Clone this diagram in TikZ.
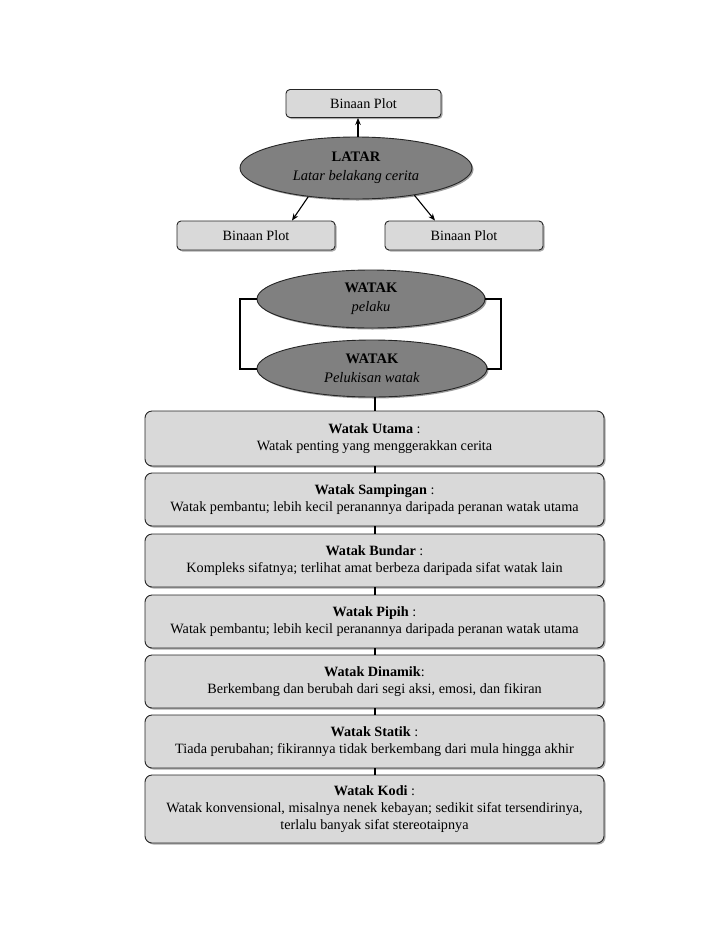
\documentclass[tikz,border=0pt]{standalone}
\usepackage{fontspec}
\setmainfont{Liberation Serif}
\usetikzlibrary{arrows.meta,shapes.geometric,shadows}
\definecolor{boxfill}{HTML}{D9D9D9}
\definecolor{ellfill}{HTML}{808080}
\begin{document}
\begin{tikzpicture}[x=1pt,y=-1pt,
  plotbox/.style={draw=black!85,line width=0.9pt,fill=boxfill,rounded corners=4pt,
    minimum width=#1,minimum height=28pt,inner sep=0pt,font=\fontsize{14.2}{16}\selectfont,
    drop shadow={shadow xshift=1.5pt,shadow yshift=-1.5pt,opacity=0.55,fill=black!60}},
  infobox/.style={draw=black!85,line width=0.9pt,fill=boxfill,rounded corners=7pt,
    minimum width=459pt,minimum height=#1,inner sep=0pt,align=center,
    font=\fontsize{14.2}{17}\selectfont,
    drop shadow={shadow xshift=1.5pt,shadow yshift=-1.5pt,opacity=0.55,fill=black!60}},
  ell/.style={ellipse,draw=black!85,line width=0.9pt,fill=ellfill,minimum width=#1,
    inner sep=0pt,align=center,font=\fontsize{14.5}{19}\selectfont,
    drop shadow={shadow xshift=1.5pt,shadow yshift=-1.5pt,opacity=0.55,fill=black!70}},
  conn/.style={line width=2pt,black},
  arr/.style={line width=1.1pt,black,-{Stealth[length=7pt,width=5.5pt]}}
]
\fill[white] (0,0) rectangle (728,943);
\useasboundingbox (0,0) rectangle (728,943);

\node[plotbox=155pt] (tb) at (363.5,103.5) {Binaan Plot};
\node[ell=232pt,minimum height=62pt] (lat) at (356,168) {\textbf{LATAR}\\\textit{Latar belakang cerita}};
\node[plotbox=158pt,minimum height=29pt] (lb) at (256,235.5) {Binaan Plot};
\node[plotbox=158pt,minimum height=29pt] (rb) at (464,235.5) {Binaan Plot};

\draw[arr] (lat.north -| 358,0) -- (358,0 |- tb.south);
\draw[arr] (lat.211) -- ([xshift=36pt]lb.north);
\draw[arr] (lat.335) -- ([xshift=-29pt]rb.north);

\node[ell=228pt,minimum height=58pt] (w1) at (371,299) {\textbf{WATAK}\\\textit{pelaku}};
\node[ell=230pt,minimum height=57pt] (w2) at (372,368.5) {\textbf{WATAK}\\\textit{Pelukisan watak}};

\draw[conn] (w1.west) -- ++(-17,0) |- (w2.west);
\draw[conn] (w1.east) -- ++(16,0) |- (w2.east);

\node[infobox=55pt] (b1) at (374.5,438.5) {\textbf{Watak Utama} :\\Watak penting yang menggerakkan cerita};
\node[infobox=53pt] (b2) at (374.5,499.5) {\textbf{Watak Sampingan} :\\Watak pembantu; lebih kecil peranannya daripada peranan watak utama};
\node[infobox=53pt] (b3) at (374.5,560.5) {\textbf{Watak Bundar} :\\Kompleks sifatnya; terlihat amat berbeza daripada sifat watak lain};
\node[infobox=53pt] (b4) at (374.5,621.5) {\textbf{Watak Pipih} :\\Watak pembantu; lebih kecil peranannya daripada peranan watak utama};
\node[infobox=53pt] (b5) at (374.5,681.5) {\textbf{Watak Dinamik}:\\Berkembang dan berubah dari segi aksi, emosi, dan fikiran};
\node[infobox=53pt] (b6) at (374.5,741.5) {\textbf{Watak Statik} :\\Tiada perubahan; fikirannya tidak berkembang dari mula hingga akhir};
\node[infobox=68pt] (b7) at (374.5,809) {\textbf{Watak Kodi} :\\Watak konvensional, misalnya nenek kebayan; sedikit sifat tersendirinya,\\terlalu banyak sifat stereotaipnya};

\draw[conn] (b1.north) -- (b1.north |- w2.south);
\draw[conn] (b2.north) -- (b1.south);
\draw[conn] (b3.north) -- (b2.south);
\draw[conn] (b4.north) -- (b3.south);
\draw[conn] (b5.north) -- (b4.south);
\draw[conn] (b6.north) -- (b5.south);
\draw[conn] (b7.north) -- (b6.south);
\end{tikzpicture}
\end{document}
